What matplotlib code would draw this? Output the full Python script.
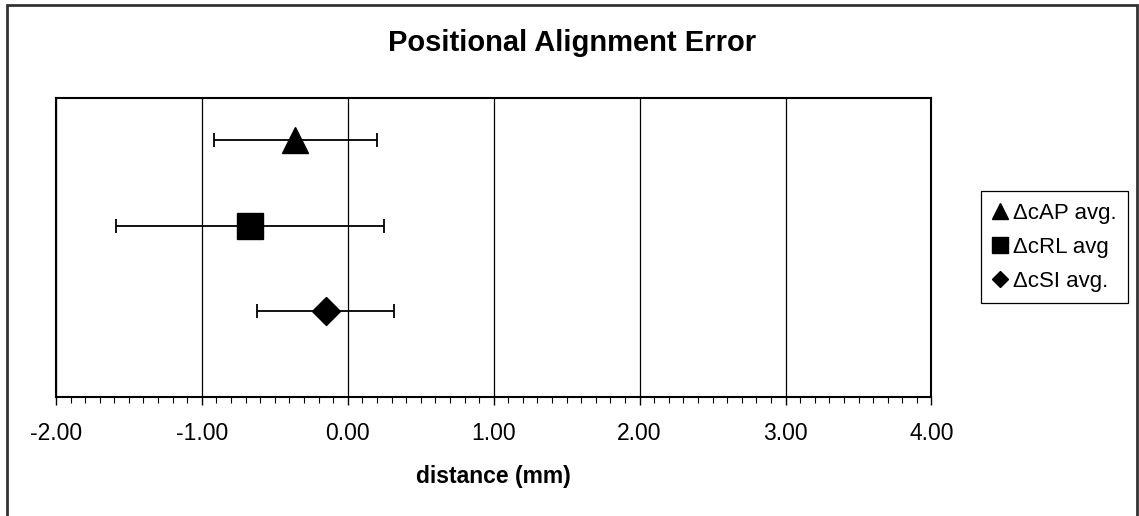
import matplotlib
matplotlib.use("Agg")
import matplotlib.pyplot as plt
from matplotlib.lines import Line2D
from matplotlib.patches import Rectangle
from matplotlib.ticker import MultipleLocator, FormatStrFormatter

plt.rcParams['font.family'] = ['Liberation Sans', 'DejaVu Sans']

# Mean offset and spread for each direction (mm)
labels = ['ΔcAP avg.', 'ΔcRL avg', 'ΔcSI avg.']
means = [-0.36, -0.67, -0.15]
errors = [0.56, 0.92, 0.47]
rows = [3, 2, 1]
markers = ['^', 's', 'D']
marker_sizes = [19, 19, 14]

fig = plt.figure(figsize=(11.39, 5.16), dpi=100)
ax = fig.add_axes([0.0491, 0.2312, 0.7687, 0.5795])

handles = []
for lab, m, e, r, mk, ms in zip(labels, means, errors, rows, markers, marker_sizes):
    ax.errorbar(m, r, xerr=e, fmt=mk, color='black', markersize=ms,
                ecolor='black', elinewidth=1.3, capsize=5, capthick=1.3,
                zorder=3)
    handles.append(Line2D([], [], linestyle='none', marker=mk, color='black',
                          markersize=ms * 0.6, label=lab))

ax.set_xlim(-2, 4)
ax.set_ylim(0, 3.5)
ax.set_yticks([])
ax.xaxis.set_major_locator(MultipleLocator(1))
ax.xaxis.set_minor_locator(MultipleLocator(0.1))
ax.xaxis.set_major_formatter(FormatStrFormatter('%.2f'))
ax.tick_params(axis='x', which='major', direction='out', length=6, width=1,
               labelsize=16.5, pad=12)
ax.tick_params(axis='x', which='minor', direction='out', length=4.5, width=0.8)
ax.grid(axis='x', which='major', color='black', linewidth=0.9)
for s in ax.spines.values():
    s.set_linewidth(1.5)
    s.set_color('black')

fig.text(0.502, 0.917, 'Positional Alignment Error', ha='center', va='center',
         fontsize=21, fontweight='bold')
fig.text(0.4335, 0.076, 'distance (mm)', ha='center', va='center',
         fontsize=16.5, fontweight='bold')

leg = ax.legend(handles=handles, loc='center left',
                bbox_to_anchor=(0.8613, 0.5205),
                bbox_transform=fig.transFigure, borderaxespad=0,
                fontsize=16, handlelength=0.7,
                handletextpad=0.25, labelspacing=0.6, borderpad=0.5,
                fancybox=False, framealpha=1, edgecolor='black')
leg.get_frame().set_linewidth(0.9)

# outer chart border
fig.patches.append(Rectangle((7 / 1139, -0.02), 1130 / 1139, 1.02 - 4.7 / 516,
                             transform=fig.transFigure, fill=False,
                             edgecolor='#333333', linewidth=2))

fig.savefig('out.png', dpi=100)
